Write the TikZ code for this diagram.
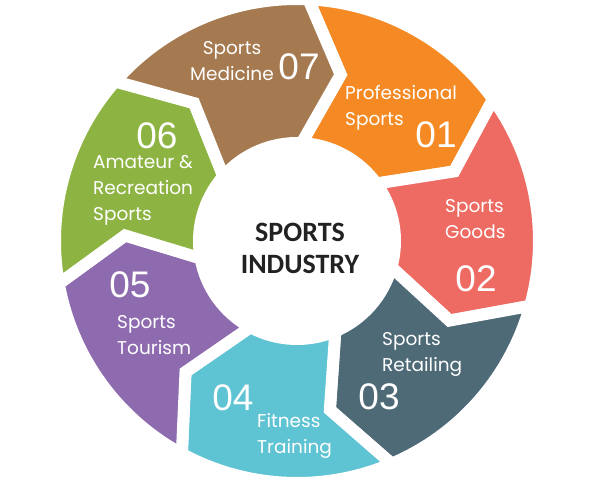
\documentclass[tikz,border=0pt]{standalone}
\usepackage{fontspec}
\newfontfamily\lblfont{Poppins}
\newfontfamily\numfont{Liberation Sans}
\newfontfamily\hubfont{Carlito}
\definecolor{cBrown}{HTML}{A57A50}
\definecolor{cOrange}{HTML}{F58A24}
\definecolor{cRed}{HTML}{EE6B63}
\definecolor{cSlate}{HTML}{4F6A77}
\definecolor{cCyan}{HTML}{5EC3D3}
\definecolor{cPurple}{HTML}{8E6BAF}
\definecolor{cGreen}{HTML}{8DB443}
\definecolor{hubtext}{HTML}{222222}
\def\RadOut{242pt}
\def\RadIn{98pt}
\def\RadMid{172pt}
\def\Dl{12}
\begin{document}
\begin{tikzpicture}[x=1pt,y=1pt,
  seg/.style={fill=#1, draw=white, line width=12pt, line join=miter},
  lbl/.style={text=white, font=\lblfont\fontsize{18.5}{26}\selectfont, align=left, inner sep=0pt, anchor=west},
  num/.style={text=white, font=\numfont\fontsize{37}{37}\selectfont, inner sep=0pt},
  hub/.style={text=hubtext, font=\hubfont\bfseries\fontsize{28}{32}\selectfont, align=center, inner sep=0pt}]
\fill[white] (0,0) rectangle (593,482);
\useasboundingbox (0,0) rectangle (593,482);
\begin{scope}[shift={(297,241)}]
\foreach \a/\c in {87.3/cOrange, 35.87/cRed, -15.56/cSlate, -66.99/cCyan, -118.41/cPurple, -169.84/cGreen, -221.27/cBrown} {
  \path[seg=\c] (\a:\RadOut) arc[start angle=\a, end angle=\a-51.4286, radius=\RadOut]
     -- ({\a-51.4286-\Dl}:\RadMid) -- ({\a-51.4286}:\RadIn)
     arc[start angle=\a-51.4286, end angle=\a, radius=\RadIn]
     -- ({\a-\Dl}:\RadMid) -- cycle;
}
\end{scope}
% labels
\node[lbl, align=center, anchor=center] (l7) at (232,420.5) {Sports\\Medicine};
\node[lbl] (l1) at (345,374.5) {Professional\\Sports};
\node[lbl] (l2) at (445,263) {Sports\\Goods};
\node[lbl] (l3) at (382,128) {Sports\\Retailing};
\node[lbl] (l4) at (257,46) {Fitness\\Training};
\node[lbl] (l5) at (117,147) {Sports\\Tourism};
\node[lbl] (l6) at (93,291.5) {Amateur \&\\Recreation\\Sports};
% numbers
\node[num] (n7) at (299,415) {07};
\node[num] (n1) at (436,347) {01};
\node[num] (n2) at (476,203) {02};
\node[num] (n3) at (379,85) {03};
\node[num] (n4) at (233,84) {04};
\node[num] (n5) at (130,197) {05};
\node[num] (n6) at (157,346) {06};
% hub
\node[hub] (hub) at (300,234) {SPORTS\\INDUSTRY};
\end{tikzpicture}
\end{document}
